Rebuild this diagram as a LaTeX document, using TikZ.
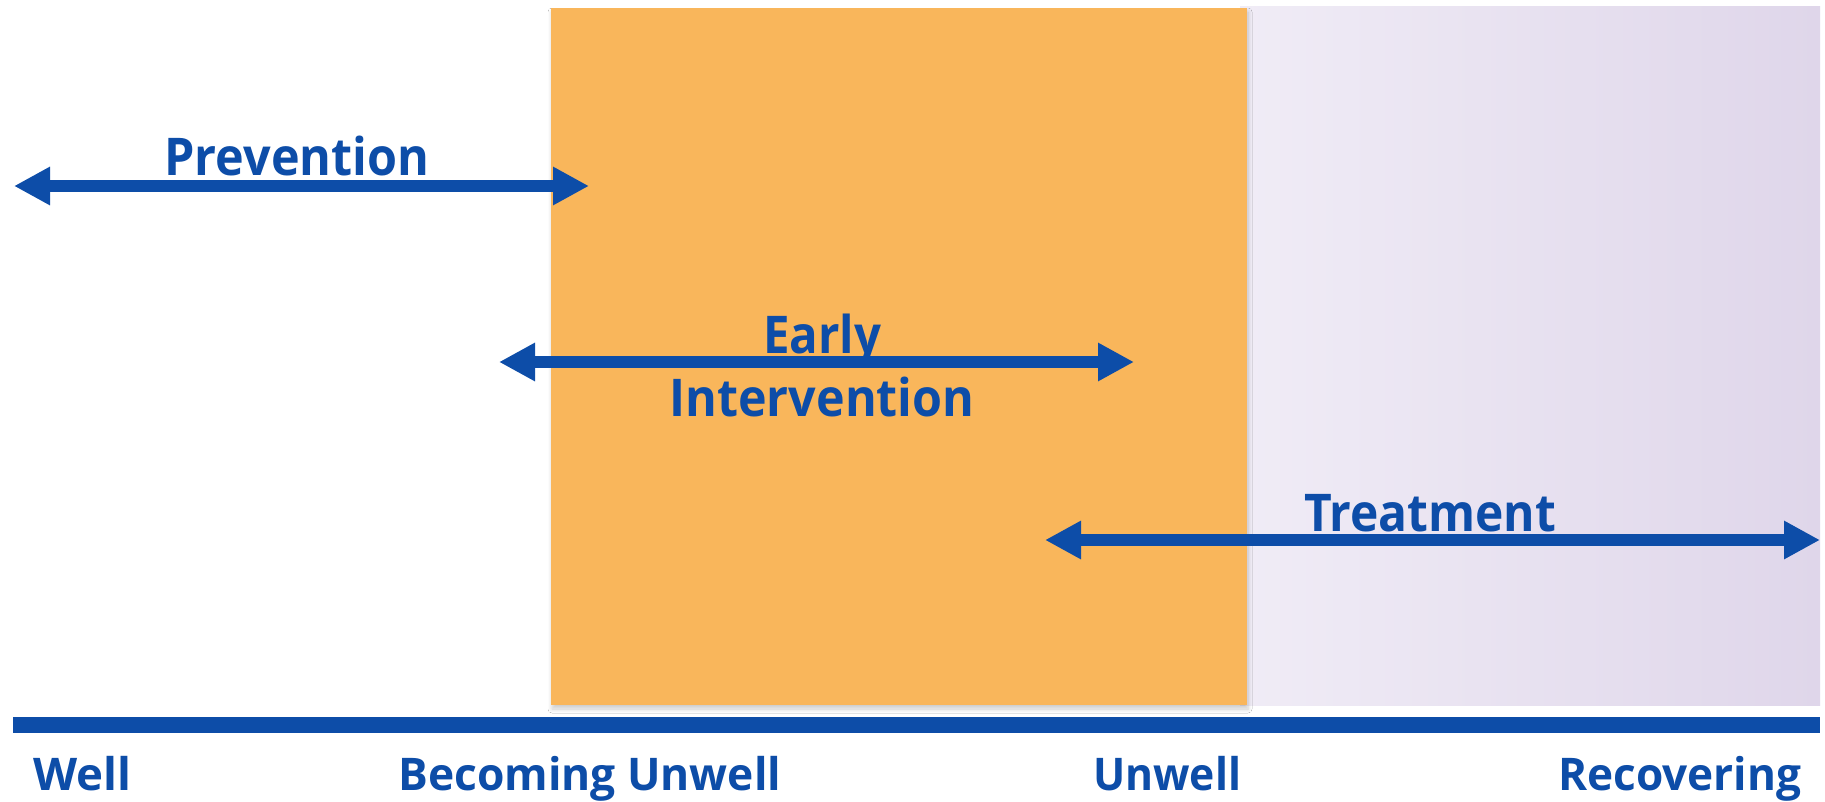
\documentclass[tikz,border=0pt]{standalone}
\usepackage{fontspec}
\usepackage{graphicx}
\setmainfont{Open Sans}
\usetikzlibrary{arrows.meta,shadows.blur}
\definecolor{ribbon}{HTML}{0D4DA8}
\definecolor{amber}{HTML}{F9B65B}
\definecolor{lilacL}{HTML}{F0ECF6}
\definecolor{lilacR}{HTML}{DFD6EA}
% set a label to a given width, keeping its height
\newcommand{\fitto}[2]{\resizebox{#1}{\height}{#2}}
\tikzset{
  phase/.style={draw=none, fill=amber, blur shadow={shadow xshift=1pt, shadow yshift=-4pt, shadow opacity=20, shadow blur steps=6, shadow blur radius=4pt}},
  span/.style={draw=ribbon, line width=12pt, {Triangle[length=36pt,width=36pt]}-{Triangle[length=36pt,width=36pt]}},
  axis/.style={draw=ribbon, line width=16pt},
  headlabel/.style={anchor=base, inner sep=0pt, text=ribbon, font=\bfseries\fontsize{52}{60}\selectfont},
  stagelabel/.style={anchor=base west, inner sep=0pt, text=ribbon, font=\bfseries\fontsize{45}{52}\selectfont},
}
\begin{document}
\begin{tikzpicture}[x=1pt,y=-1pt]
\useasboundingbox (0,0) rectangle (1825,802);
\fill[white] (0,0) rectangle (1825,802);

% recovery zone with a soft horizontal gradient (starts beneath the amber block)
\shade[left color=lilacL, right color=lilacR] (1240,7) rectangle (1820,705);
% early-warning zone
\path[phase] (551,8) rectangle (1247,705);

% timeline
\coordinate (axisL) at (13,725);
\coordinate (axisR) at (1820,725);
\path[axis] (axisL) -- (axisR);

% intervention spans
\coordinate (prevL) at (14,186);
\coordinate (prevR) at (589,186);
\coordinate (earlyL) at (499,362);
\coordinate (earlyR) at (1134,362);
\coordinate (treatL) at (1045,540);
\coordinate (treatR) at (1820,540);
\path[span] (prevL) -- (prevR);
\path[span] (earlyL) -- (earlyR);
\path[span] (treatL) -- (treatR);

\node[headlabel] (prev) at (297,176) {\fitto{265pt}{Prevention}};
\node[headlabel] (early1) at (822,353) {\fitto{118pt}{Early}};
\node[headlabel] (early2) at (822,416) {\fitto{305pt}{Intervention}};
\node[headlabel] (treat) at (1430,531) {\fitto{252pt}{Treatment}};

% stages along the timeline
\node[stagelabel] (well) at (33,790) {\fitto{98pt}{Well}};
\node[stagelabel] (becoming) at (398,790) {\fitto{383pt}{Becoming Unwell}};
\node[stagelabel] (unwell) at (1093,790) {\fitto{148pt}{Unwell}};
\node[stagelabel] (recovering) at (1558,790) {\fitto{243pt}{Recovering}};
\end{tikzpicture}
\end{document}
